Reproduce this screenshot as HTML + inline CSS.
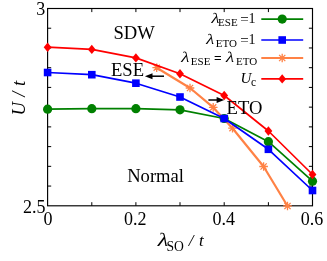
<!DOCTYPE html>
<html><head><meta charset="utf-8"><title>Phase diagram</title>
<style>html,body{margin:0;padding:0;background:#fff;}svg{display:block;will-change:transform;}</style></head>
<body><svg width="327" height="261" viewBox="0 0 327 261">
<rect width="327" height="261" fill="#fff"/>
<rect x="47.6" y="8.5" width="264.9" height="197.3" fill="none" stroke="#000" stroke-width="1.15"/>
<path d="M91.8 205.8v-3.6M91.8 8.5v3.6M135.9 205.8v-3.6M135.9 8.5v3.6M180.0 205.8v-3.6M180.0 8.5v3.6M224.2 205.8v-3.6M224.2 8.5v3.6M268.4 205.8v-3.6M268.4 8.5v3.6M47.6 186.07h3.6M312.5 186.07h-3.6M47.6 166.34h3.6M312.5 166.34h-3.6M47.6 146.61h3.6M312.5 146.61h-3.6M47.6 126.88h3.6M312.5 126.88h-3.6M47.6 107.15h3.6M312.5 107.15h-3.6M47.6 87.42h3.6M312.5 87.42h-3.6M47.6 67.69h3.6M312.5 67.69h-3.6M47.6 47.96h3.6M312.5 47.96h-3.6M47.6 28.23h3.6M312.5 28.23h-3.6" stroke="#000" stroke-width="1" fill="none"/>
<polyline fill="none" stroke="#ff8245" stroke-width="2.2" stroke-linejoin="round" points="156.7,67.7 190.0,88.0 213.2,107.4 232.5,128.2 263.6,166.5 287.5,206.0"/>
<path d="M152.4 67.7h8.6M156.7 63.4v8.6M153.6 64.6l6.2 6.2M153.6 70.8l6.2 -6.2" stroke="#ff8245" stroke-width="1.3" fill="none"/>
<path d="M185.7 88.0h8.6M190.0 83.7v8.6M186.9 84.9l6.2 6.2M186.9 91.1l6.2 -6.2" stroke="#ff8245" stroke-width="1.3" fill="none"/>
<path d="M208.9 107.4h8.6M213.2 103.1v8.6M210.1 104.3l6.2 6.2M210.1 110.5l6.2 -6.2" stroke="#ff8245" stroke-width="1.3" fill="none"/>
<path d="M228.2 128.2h8.6M232.5 123.9v8.6M229.4 125.1l6.2 6.2M229.4 131.3l6.2 -6.2" stroke="#ff8245" stroke-width="1.3" fill="none"/>
<path d="M259.3 166.5h8.6M263.6 162.2v8.6M260.5 163.4l6.2 6.2M260.5 169.6l6.2 -6.2" stroke="#ff8245" stroke-width="1.3" fill="none"/>
<path d="M283.2 206.0h8.6M287.5 201.7v8.6M284.4 202.9l6.2 6.2M284.4 209.1l6.2 -6.2" stroke="#ff8245" stroke-width="1.3" fill="none"/>
<polyline fill="none" stroke="#008000" stroke-width="1.7" stroke-linejoin="round" points="47.6,109.2 91.8,108.7 135.9,108.7 180.0,109.8 224.2,118.5 268.4,141.7 312.5,181.2"/>
<circle cx="47.6" cy="109.2" r="4.6" fill="#008000"/>
<circle cx="91.8" cy="108.7" r="4.6" fill="#008000"/>
<circle cx="135.9" cy="108.7" r="4.6" fill="#008000"/>
<circle cx="180.0" cy="109.8" r="4.6" fill="#008000"/>
<circle cx="224.2" cy="118.5" r="4.6" fill="#008000"/>
<circle cx="268.4" cy="141.7" r="4.6" fill="#008000"/>
<circle cx="312.5" cy="181.2" r="4.6" fill="#008000"/>
<polyline fill="none" stroke="#0000ff" stroke-width="1.7" stroke-linejoin="round" points="47.6,72.5 91.8,74.7 135.9,83.2 180.0,97.0 224.2,118.5 268.4,149.3 312.5,190.5"/>
<rect x="43.8" y="68.7" width="7.6" height="7.6" fill="#0000ff"/>
<rect x="88.0" y="70.9" width="7.6" height="7.6" fill="#0000ff"/>
<rect x="132.1" y="79.4" width="7.6" height="7.6" fill="#0000ff"/>
<rect x="176.2" y="93.2" width="7.6" height="7.6" fill="#0000ff"/>
<rect x="220.4" y="114.7" width="7.6" height="7.6" fill="#0000ff"/>
<rect x="264.6" y="145.5" width="7.6" height="7.6" fill="#0000ff"/>
<rect x="308.7" y="186.7" width="7.6" height="7.6" fill="#0000ff"/>
<polyline fill="none" stroke="#ff0000" stroke-width="1.7" stroke-linejoin="round" points="47.6,47.2 91.8,49.4 135.9,57.9 180.0,73.8 224.2,95.5 268.4,131.0 312.5,174.5"/>
<path d="M47.6 42.5l3.9 4.7l-3.9 4.7l-3.9 -4.7z" fill="#ff0000"/>
<path d="M91.8 44.7l3.9 4.7l-3.9 4.7l-3.9 -4.7z" fill="#ff0000"/>
<path d="M135.9 53.2l3.9 4.7l-3.9 4.7l-3.9 -4.7z" fill="#ff0000"/>
<path d="M180.0 69.1l3.9 4.7l-3.9 4.7l-3.9 -4.7z" fill="#ff0000"/>
<path d="M224.2 90.8l3.9 4.7l-3.9 4.7l-3.9 -4.7z" fill="#ff0000"/>
<path d="M268.4 126.3l3.9 4.7l-3.9 4.7l-3.9 -4.7z" fill="#ff0000"/>
<path d="M312.5 169.8l3.9 4.7l-3.9 4.7l-3.9 -4.7z" fill="#ff0000"/>
<line x1="261.3" x2="303.2" y1="19.1" y2="19.1" stroke="#008000" stroke-width="1.7"/>
<circle cx="282.2" cy="19.1" r="4.6" fill="#008000"/>
<line x1="261.3" x2="303.2" y1="40" y2="40" stroke="#0000ff" stroke-width="1.7"/>
<rect x="278.4" y="36.2" width="7.6" height="7.6" fill="#0000ff"/>
<line x1="261.3" x2="303.2" y1="58" y2="58" stroke="#ff8245" stroke-width="2.2"/>
<path d="M277.9 58.0h8.6M282.2 53.7v8.6M279.1 54.9l6.2 6.2M279.1 61.1l6.2 -6.2" stroke="#ff8245" stroke-width="1.3" fill="none"/>
<line x1="261.3" x2="303.2" y1="78.9" y2="78.9" stroke="#ff0000" stroke-width="1.7"/>
<path d="M282.2 74.2l3.9 4.7l-3.9 4.7l-3.9 -4.7z" fill="#ff0000"/>

<g font-family="Liberation Serif, serif" font-size="18.6" fill="#000">
<text x="45.3" y="15" text-anchor="end" font-size="18">3</text>
<text x="45.5" y="212.9" text-anchor="end" font-size="18">2.5</text>
<text x="48" y="224.7" text-anchor="middle" font-size="18">0</text>
<text x="135.3" y="224.7" text-anchor="middle" font-size="18">0.2</text>
<text x="223.7" y="224.7" text-anchor="middle" font-size="18">0.4</text>
<text x="312" y="224.7" text-anchor="middle" font-size="18">0.6</text>
<text x="134.2" y="39.1" text-anchor="middle">SDW</text>
<text x="127.2" y="181.7">Normal</text>
<text x="111" y="76.4">ESE</text>
<text x="226.6" y="113.9">ETO</text>
<text transform="translate(156.4,245.8) skewX(-12) scale(1.22,1)" font-size="19">λ</text>
<text x="166.4" y="250.5" font-size="13.6">SO</text>
<text x="188.8" y="245.8" font-style="italic" font-size="17" word-spacing="1.2">/ t</text>
<text transform="translate(25.3,98.2) rotate(-90)" text-anchor="middle" font-style="italic" word-spacing="0.8">U / t</text>
<g font-size="13">
<text transform="translate(210.4,22.9) skewX(-12) scale(1.22,1)" font-size="14.5">λ</text>
<text x="218.1" y="25.9" font-size="11">ESE</text>
<text x="240.3" y="24" font-size="15">=</text><text x="248.6" y="22.9" font-size="14">1</text>
<text transform="translate(205.2,43.75) skewX(-12) scale(1.22,1)" font-size="14.5">λ</text>
<text x="215.7" y="46.9" font-size="11">ETO</text>
<text x="240.3" y="44.85" font-size="15">=</text><text x="248.6" y="43.75" font-size="14">1</text>
<text transform="translate(180.2,62) skewX(-12) scale(1.22,1)" font-size="14.8">λ</text>
<text x="190.8" y="64.7" font-size="11">ESE</text>
<text x="213.9" y="62.4" font-family="Liberation Sans, sans-serif">=</text>
<text transform="translate(225.0,62) skewX(-12) scale(1.22,1)" font-size="14.8">λ</text>
<text x="236" y="64.7" font-size="11">ETO</text>
<text x="240.6" y="83" font-style="italic" font-size="15">U</text>
<text x="251" y="85.8" font-size="11.5">c</text>
</g>
</g>
<path d="M164 76.2H148" stroke="#000" stroke-width="1.5" fill="none"/><path d="M144.9 76.2l7.6 -3v6z" fill="#000"/>
<path d="M208.4 100H221" stroke="#000" stroke-width="1.5" fill="none"/><path d="M224.2 100l-7.6 -3v6z" fill="#000"/>

</svg></body></html>
